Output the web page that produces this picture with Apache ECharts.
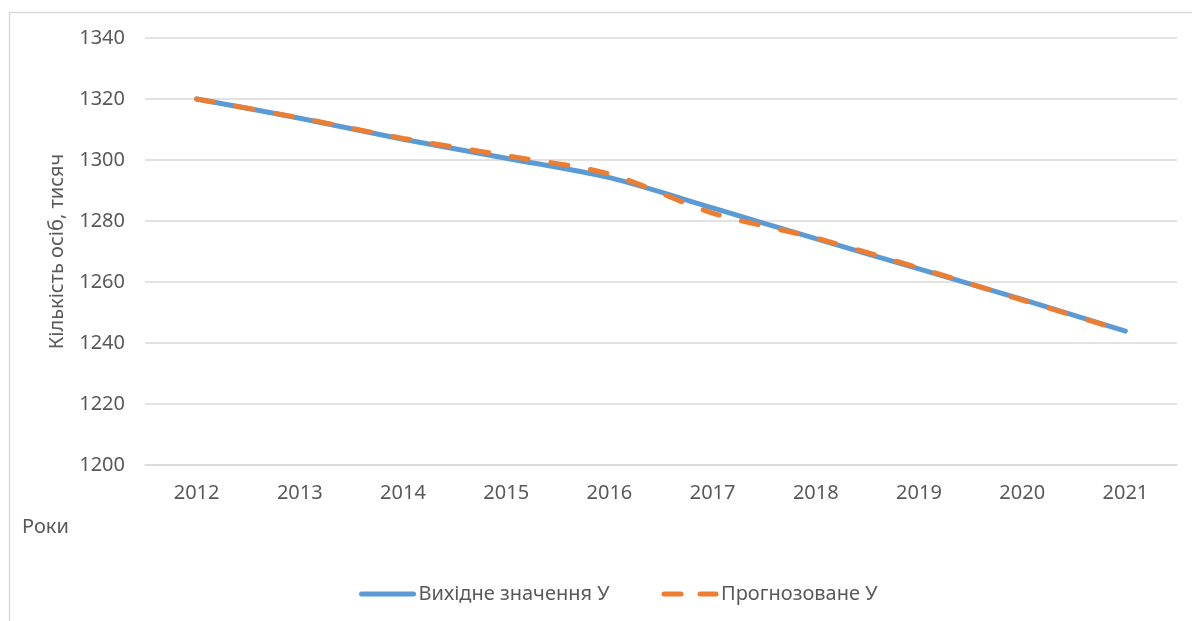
<!DOCTYPE html>
<html>
<head>
<meta charset="utf-8">
<title>Кількість осіб</title>
<script src="https://cdn.jsdelivr.net/npm/echarts@6/dist/echarts.min.js"></script>
<style>
    html, body { margin: 0; padding: 0; background: #fff; }
    #container { width: 1192px; height: 621px; }
</style>
</head>
<body>
<div id="container"></div>
<script>
// дані з графіка
var years = ['2012', '2013', '2014', '2015', '2016', '2017', '2018', '2019', '2020', '2021'];
var actualY = [1320, 1313.7, 1306.8, 1300.6, 1294.2, 1284.3, 1274.2, 1264.3, 1254.3, 1243.9];
var forecastY = [1320, 1313.8, 1307.1, 1301.4, 1295.4, 1282.6, 1274.4, 1264.6, 1254.1, 1243.8];
var seriesNames = ['Вихідне значення У', 'Прогнозоване У'];

var textColor = '#595959';
var gridColor = '#d9d9d9';
var font = 'Noto Sans';

var myChart = echarts.init(document.getElementById('container'));
var option = {
    backgroundColor: '#fff',
    animation: false,
    textStyle: { fontFamily: font },
    grid: {
        left: 145,
        right: 15,
        top: 38,
        bottom: 156
    },
    //рамка області графіка
    graphic: [
        {
            type: 'rect',
            shape: { x: 9.5, y: 12.5, width: 1220, height: 640 },
            style: { fill: 'none', stroke: '#d9d9d9', lineWidth: 1.5 },
            silent: true
        },
        {
            type: 'text',
            left: 22,
            top: 517,
            style: { text: 'Роки', fill: textColor, font: '20px "Noto Sans"' }
        }
    ],
    legend: {
        bottom: 12,
        left: 354,
        itemWidth: 52,
        itemHeight: 6,
        itemGap: 52,
        itemStyle: { opacity: 0 },
        textStyle: { color: textColor, fontSize: 20, fontFamily: font, padding: [0, 0, 0, 0] },
        data: [
            { name: seriesNames[0], lineStyle: { width: 5, cap: 'round' } },
            { name: seriesNames[1], lineStyle: { width: 5, cap: 'round', type: [17, 19] } }
        ]
    },
    xAxis: {
        type: 'category',
        data: years,
        boundaryGap: true,
        axisLine: { lineStyle: { color: gridColor, width: 1.5 } },
        axisTick: { show: false },
        axisLabel: { color: textColor, fontSize: 20, margin: 18 }
    },
    yAxis: {
        type: 'value',
        min: 1200,
        max: 1340,
        interval: 20,
        name: 'Кількість осіб, тисяч',
        nameLocation: 'middle',
        nameGap: 78,
        nameTextStyle: { color: textColor, fontSize: 20 },
        axisLine: { show: false },
        axisTick: { show: false },
        axisLabel: {
            color: textColor,
            fontSize: 20,
            margin: 20,
            formatter: function (v) { return String(v); }
        },
        splitLine: { lineStyle: { color: gridColor, width: 1.5 } }
    },
    series: [
        {
            name: seriesNames[0],
            type: 'line',
            data: actualY,
            smooth: 0.3,
            symbol: 'none',
            color: '#5b9bd5',
            lineStyle: { color: '#5b9bd5', width: 5, cap: 'round' }
        },
        {
            name: seriesNames[1],
            type: 'line',
            data: forecastY,
            smooth: 0.3,
            symbol: 'none',
            color: '#ed7d31',
            lineStyle: { color: '#ed7d31', width: 5, type: [17, 23], cap: 'round' }
        }
    ]
};
myChart.setOption(option);
</script>
</body>
</html>
